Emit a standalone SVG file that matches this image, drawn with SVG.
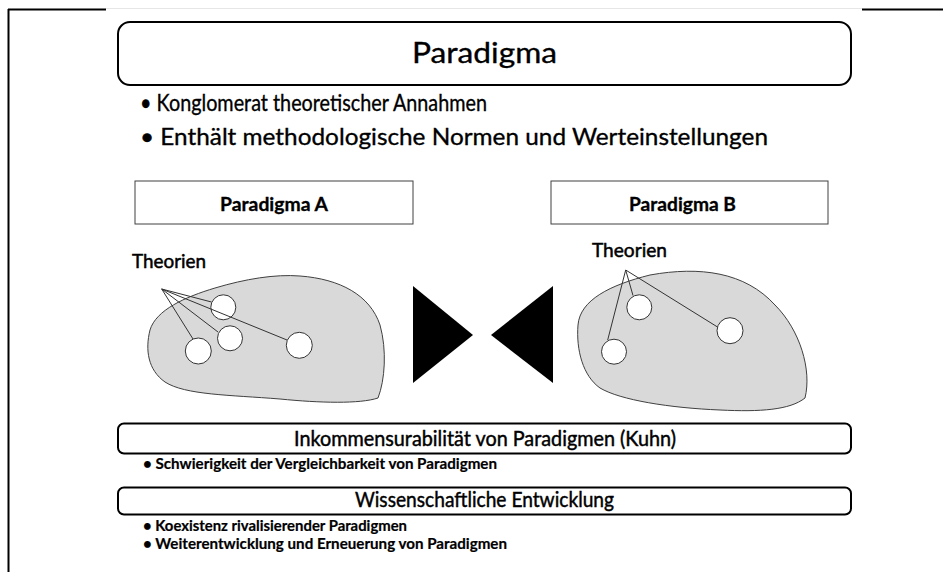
<svg xmlns="http://www.w3.org/2000/svg" width="943" height="572" viewBox="0 0 943 572">
<style>
text{font-family:Lato,"Liberation Sans",sans-serif;fill:#000;stroke:#000;stroke-width:0.35}
.frame{stroke:#000;stroke-width:2;fill:none}
.hbox{fill:#fff;stroke:#000;stroke-width:2}
.pbox{fill:#fff;stroke:#404040;stroke-width:1}
.blob{fill:#d9d9d9;stroke:#404040;stroke-width:1}
.th{fill:#fff;stroke:#333;stroke-width:1}
.tri{fill:#000}
.conn line{stroke:#333;stroke-width:1}
.big{font-size:24px}
.hd{font-size:21px;stroke-width:0.45}
.sm{font-size:15px;font-weight:bold;stroke-width:0.2}
.pl{font-size:18px;font-weight:bold;stroke-width:0.3}
.tl{font-size:19px;stroke-width:0.5}
</style>
<rect width="943" height="572" fill="#fff"/>
<g id="frame">
<line x1="8" y1="9.5" x2="106" y2="9.5" class="frame"/>
<line x1="862" y1="9.5" x2="943" y2="9.5" class="frame"/>
<line x1="106" y1="8.5" x2="862" y2="8.5" stroke="#ccc" stroke-width="0.5"/>
<line x1="8.5" y1="9" x2="8.5" y2="572" class="frame"/>
</g>
<g id="title">
<rect x="118" y="22" width="733" height="63" rx="12" class="hbox"/>
<text x="484.5" y="63" font-size="29" text-anchor="middle" textLength="145" lengthAdjust="spacingAndGlyphs" stroke-width="0.2">Paradigma</text>
</g>
<g id="title-bullets">
<text x="140" y="111" class="big" textLength="347" lengthAdjust="spacingAndGlyphs">• Konglomerat theoretischer Annahmen</text>
<text x="140" y="145" class="big" textLength="628" lengthAdjust="spacingAndGlyphs">• Enthält methodologische Normen und Werteinstellungen</text>
</g>
<g id="paradigma-a">
<rect x="135" y="181" width="278" height="43" class="pbox"/>
<text x="274" y="210.5" class="pl" text-anchor="middle" textLength="108" lengthAdjust="spacingAndGlyphs">Paradigma A</text>
</g>
<g id="paradigma-b">
<rect x="551" y="181" width="277" height="43" class="pbox"/>
<text x="682.5" y="210.5" class="pl" text-anchor="middle" textLength="107" lengthAdjust="spacingAndGlyphs">Paradigma B</text>
</g>
<g id="blob-a">
<path class="blob" d="M150,330 C156,310 185,297 215,288 C245,279 275,274 300,276 C340,279 370,295 380,325 C387,350 385,380 378,398 C360,404 320,403 280,399 C230,395 185,395 165,382 C148,370 145,350 150,330 Z"/>
</g>
<g id="blob-b">
<path class="blob" d="M578,325 C580,300 610,285 650,275 C700,266 745,272 775,305 C800,330 812,370 805,398 C790,410 760,412 720,410 C670,408 620,400 600,388 C583,376 576,350 578,325 Z"/>
</g>
<g id="theorien-a">
<text x="132" y="268" class="tl" textLength="74" lengthAdjust="spacingAndGlyphs">Theorien</text>
</g>
<g id="theorien-b">
<text x="592" y="257" class="tl" textLength="75" lengthAdjust="spacingAndGlyphs">Theorien</text>
</g>
<g id="theory-a1"><circle cx="223.3" cy="307.3" r="12.5" class="th"/></g>
<g id="theory-a2"><circle cx="230" cy="338.3" r="12.5" class="th"/></g>
<g id="theory-a3"><circle cx="198.3" cy="351" r="13" class="th"/></g>
<g id="theory-a4"><circle cx="299.3" cy="345.3" r="13" class="th"/></g>
<g id="theory-b1"><circle cx="639.3" cy="307.3" r="12.5" class="th"/></g>
<g id="theory-b2"><circle cx="730" cy="330.7" r="13" class="th"/></g>
<g id="theory-b3"><circle cx="614" cy="351.7" r="12.5" class="th"/></g>
<g id="connectors" class="conn">
<line x1="161.7" y1="289" x2="193" y2="339"/>
<line x1="161.7" y1="289" x2="218" y2="332"/>
<line x1="161.7" y1="289" x2="211.5" y2="302"/>
<line x1="161.7" y1="289" x2="287" y2="340"/>
<line x1="625.7" y1="270" x2="607.7" y2="340"/>
<line x1="625.7" y1="270" x2="633" y2="295.5"/>
<line x1="625.7" y1="270" x2="717.5" y2="327"/>
</g>
<g id="incommensurability">
<polygon class="tri" points="413,286 473,335 413,383"/>
<polygon class="tri" points="553,286 491,335 553,383"/>
</g>
<g id="kuhn">
<rect x="118" y="423.5" width="733" height="30" rx="6" class="hbox"/>
<text x="485" y="445.5" class="hd" text-anchor="middle" textLength="382" lengthAdjust="spacingAndGlyphs">Inkommensurabilität von Paradigmen (Kuhn)</text>
</g>
<text x="143" y="469" class="sm" textLength="354" lengthAdjust="spacingAndGlyphs">• Schwierigkeit der Vergleichbarkeit von Paradigmen</text>
<g id="entwicklung">
<rect x="118" y="487.5" width="733" height="27" rx="6" class="hbox"/>
<text x="484.5" y="507" class="hd" text-anchor="middle" textLength="259" lengthAdjust="spacingAndGlyphs">Wissenschaftliche Entwicklung</text>
</g>
<text x="143" y="530.5" class="sm" textLength="264" lengthAdjust="spacingAndGlyphs">• Koexistenz rivalisierender Paradigmen</text>
<text x="143" y="549" class="sm" textLength="364" lengthAdjust="spacingAndGlyphs">• Weiterentwicklung und Erneuerung von Paradigmen</text>
</svg>
